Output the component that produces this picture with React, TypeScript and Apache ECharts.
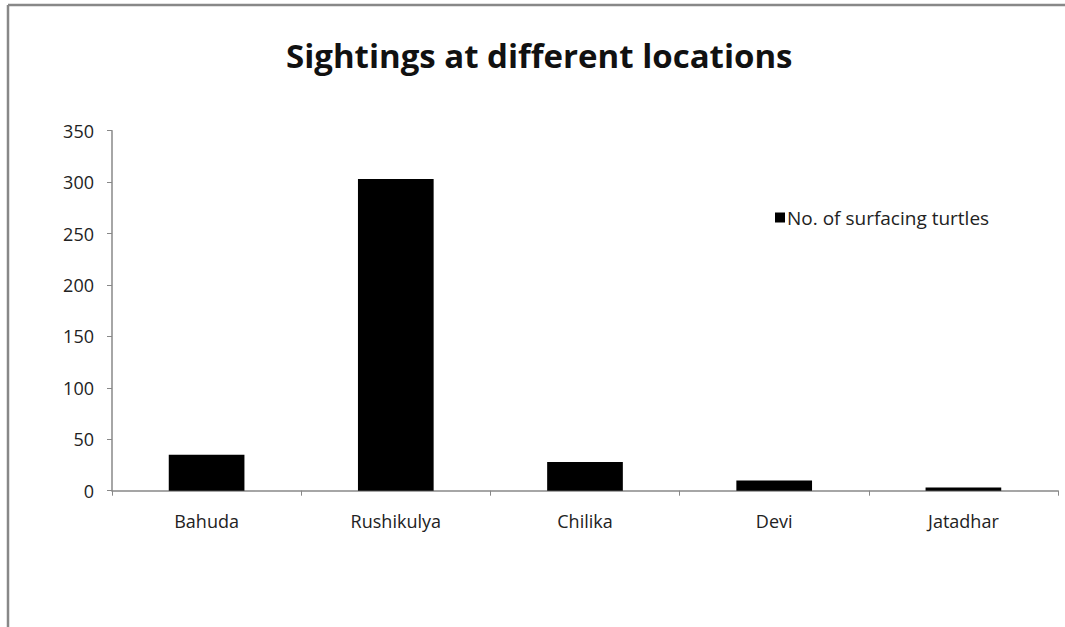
import React, { useEffect, useRef } from "react";
import * as echarts from "echarts";

const categories = ["Bahuda", "Rushikulya", "Chilika", "Devi", "Jatadhar"];
const turtles = [35, 303, 28, 10, 3];
const seriesName = "No. of surfacing turtles";
const titleText = "Sightings at different locations";

export default function App() {
  const ref = useRef<HTMLDivElement>(null);
  useEffect(() => {
    if (!ref.current) return;
    const chart = echarts.init(ref.current, null, { renderer: "svg" });
    const font = "'Open Sans', 'DejaVu Sans', sans-serif";
    chart.setOption({
      animation: false,
      backgroundColor: "#ffffff",
      title: {
        text: titleText,
        left: 281,
        top: 34,
        textStyle: { fontFamily: font, fontSize: 33, fontWeight: "bold", color: "#111" },
      },
      legend: {
        left: 770,
        top: 203,
        itemWidth: 10,
        itemHeight: 10,
        itemGap: 4,
        icon: "rect",
        data: [seriesName],
        textStyle: { fontFamily: font, fontSize: 19, color: "#222", padding: [0, 0, 0, -3] },
      },
      grid: { left: 112, right: 7, top: 130.7, bottom: 136.3, containLabel: false },
      xAxis: {
        type: "category",
        data: categories,
        axisLine: { lineStyle: { color: "#888", width: 1.5 } },
        axisTick: { show: true, alignWithLabel: false, length: 5, lineStyle: { color: "#888" } },
        axisLabel: { fontFamily: font, fontSize: 18, color: "#222", margin: 21 },
      },
      yAxis: {
        type: "value",
        min: 0,
        max: 350,
        interval: 50,
        splitLine: { show: false },
        axisLine: { show: true, lineStyle: { color: "#888", width: 1.5 } },
        axisTick: { show: true, length: 5, lineStyle: { color: "#888" } },
        axisLabel: { fontFamily: font, fontSize: 18, color: "#222", margin: 18 },
      },
      series: [
        {
          name: seriesName,
          type: "bar",
          data: turtles,
          barWidth: "40%",
          itemStyle: { color: "#000000" },
        },
      ],
      graphic: [
        { type: "line", shape: { x1: 8, y1: 5, x2: 1065, y2: 5 }, style: { stroke: "#888", lineWidth: 2.5 } },
        { type: "line", shape: { x1: 8, y1: 5, x2: 8, y2: 627 }, style: { stroke: "#888", lineWidth: 2.5 } },
      ],
    });
    return () => chart.dispose();
  }, []);
  return (
    <div
      ref={ref}
      style={{ position: "fixed", left: 0, top: 0, width: 1065, height: 627 }}
    />
  );
}
